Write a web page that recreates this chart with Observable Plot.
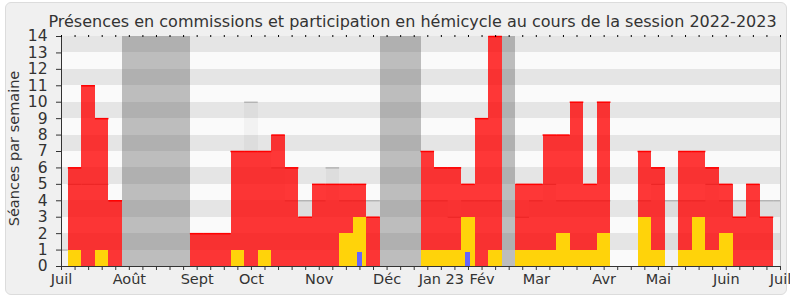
<!DOCTYPE html>
<html><head><meta charset="utf-8">
<script src="https://cdn.jsdelivr.net/npm/d3@7"></script>
<script src="https://cdn.jsdelivr.net/npm/@observablehq/plot@0.6"></script>
<style>
html,body{margin:0;padding:0;background:#fff;}
#wrap{position:relative;width:790px;height:300px;overflow:hidden;}
#panel{position:absolute;left:5px;top:2px;width:782px;height:293px;background:#f0f0f0;border:1px solid #dcdcdc;border-radius:6px;box-sizing:border-box;}
#chart{position:absolute;left:0;top:0;}
</style></head><body><div id="wrap"><div id="panel"></div><div id="chart"></div></div>
<script>
const title = "Présences en commissions et participation en hémicycle au cours de la session 2022-2023";
const yTitle = "Séances par semaine";

// week index 1..52
const weeks = [1,2,3,4,5,6,7,8,9,10,11,12,13,14,15,16,17,18,19,20,21,22,23,24,25,26,27,28,29,30,31,32,33,34,35,36,37,38,39,40,41,42,43,44,45,46,47,48,49,50,51,52];
const commissions = [6,11,9,4,0,0,0,0,0,2,2,2,7,7,7,8,6,3,5,5,5,5,3,0,0,0,7,6,6,5,9,14,0,5,5,8,8,10,5,10,0,0,7,6,0,7,7,6,5,3,5,3];
const hemicycle   = [1,0,1,0,0,0,0,0,0,0,0,0,1,0,1,0,0,0,0,0,2,3,0,0,0,0,1,1,1,3,0,1,0,1,1,1,2,1,1,2,0,0,3,1,0,1,3,1,2,0,0,0];
const questions   = [0,0,0,0,0,0,0,0,0,0,0,0,0,0,0,0,0,0,0,0,0,0.85,0,0,0,0,0,0,0,0.85,0,0,0,0,0,0,0,0,0,0,0,0,0,0,0,0,0,0,0,0,0,0];

// median of all deputies, week index 0..53
const medianWeeks = [0,1,2,3,4,5,6,7,8,9,10,11,12,13,14,15,16,17,18,19,20,21,22,23,24,25,26,27,28,29,30,31,32,33,34,35,36,37,38,39,40,41,42,43,44,45,46,47,48,49,50,51,52,53];
const mediane = [1,5,5,5,4,0,0,0,0,0,2,2,2,7,10,7,6,4,4,4,6,4,4,4,0,0,0,4,4,3,4,4,4,0,3,4,5,4,4,4,4,0,0,4,5,4,4,4,5,4,4,4,4,4];

const vacationWeeks = [5,6,7,8,9,24,25,26,33];

const weekTicks = [0,1,2,3,4,5,6,7,8,9,10,11,12,13,14,15,16,17,18,19,20,21,22,23,24,25,26,27,28,29,30,31,32,33,34,35,36,37,38,39,40,41,42,43,44,45,46,47,48,49,50,51,52,53];
const monthTickWeeks = [0,5,10,14,19,24,28,31,35,40,44,49,53];
const monthLabels = ["Juil","Août","Sept","Oct","Nov","Déc","Jan 23","Fév","Mar","Avr","Mai","Juin","Juil"];
const yTicks = [0,1,2,3,4,5,6,7,8,9,10,11,12,13,14];

const monthMap = new Map(monthTickWeeks.map((w,i)=>[w, monthLabels[i]]));
const data = weeks.map((w,i)=>({w, red: commissions[i], yel: hemicycle[i], blue: questions[i]}));
const med = medianWeeks.map((w,i)=>({w, m: mediane[i]})).filter(d=>d.m>0);
const bands = yTicks.slice(0,-1).map(k=>({k}));
const L = d=>d.w-0.5, R = d=>d.w+0.5;

const plot = Plot.plot({
  width:790, height:300,
  marginLeft:61, marginRight:10, marginTop:36, marginBottom:34,
  x:{domain:[0,53]}, y:{domain:[0,14]},
  style:{background:"transparent", fontFamily:"'DejaVu Sans', sans-serif", fontSize:"14px", color:"#333"},
  marks:[
    Plot.rect(bands, {x1:0, x2:53, y1:"k", y2:d=>d.k+1, fill:d=>d.k%2 ? "#e5e5e5" : "#fafafa", shapeRendering:"crispEdges"}),
    Plot.rect(med, {x1:L, x2:R, y1:0, y2:"m", fill:"#000", fillOpacity:0.03, clip:true, shapeRendering:"crispEdges"}),
    Plot.ruleY(med, {y:"m", x1:L, x2:R, stroke:"#ababab", strokeWidth:1.2, clip:true}),
    Plot.rect(vacationWeeks, {x1:d=>d-0.5, x2:d=>d+0.5, y1:0, y2:14, fill:"#5a5a5a", fillOpacity:0.38, shapeRendering:"crispEdges"}),
    Plot.rect(data.filter(d=>d.red>0), {x1:L, x2:R, y1:0, y2:"red", fill:"#ff0000", fillOpacity:0.78, shapeRendering:"crispEdges"}),
    Plot.ruleY(data.filter(d=>d.red>0), {y:"red", x1:L, x2:R, stroke:"#ff0000", strokeWidth:1.5}),
    Plot.rect(data.filter(d=>d.yel>0), {x1:L, x2:R, y1:0, y2:"yel", fill:"#ffd30a", shapeRendering:"crispEdges"}),
    Plot.rect(data.filter(d=>d.blue>0), {x1:d=>d.w-0.2, x2:d=>d.w+0.16, y1:0, y2:"blue", fill:"#6464ff", shapeRendering:"crispEdges"}),
    Plot.ruleX([53], {stroke:"#c4c4c4"}),
    Plot.ruleX([0], {stroke:"#333"}),
    Plot.ruleY([0], {stroke:"#333"}),
    Plot.axisY({ticks:yTicks, tickSize:5, tickPadding:9, tickFormat:d=>String(d), label:null, fontSize:15.5}),
    Plot.axisX({ticks:weekTicks, tickSize:4, tickPadding:3, tickFormat:d=>monthMap.get(d) ?? "", label:null, fontSize:14.5}),
    Plot.axisX({anchor:"top", ticks:weekTicks, tickSize:2, tickFormat:()=>"", label:null, stroke:"#000"}),
    Plot.text([yTitle], {text:d=>d, frameAnchor:"left", textAnchor:"middle", lineAnchor:"middle", dx:-47, dy:-3, rotate:-90, fontSize:14.5}),
    Plot.text([title], {text:d=>d, frameAnchor:"top-left", textAnchor:"middle", lineAnchor:"middle", dx:351, dy:-15, fontSize:16})
  ]
});
document.getElementById("chart").appendChild(plot);
</script></body></html>
